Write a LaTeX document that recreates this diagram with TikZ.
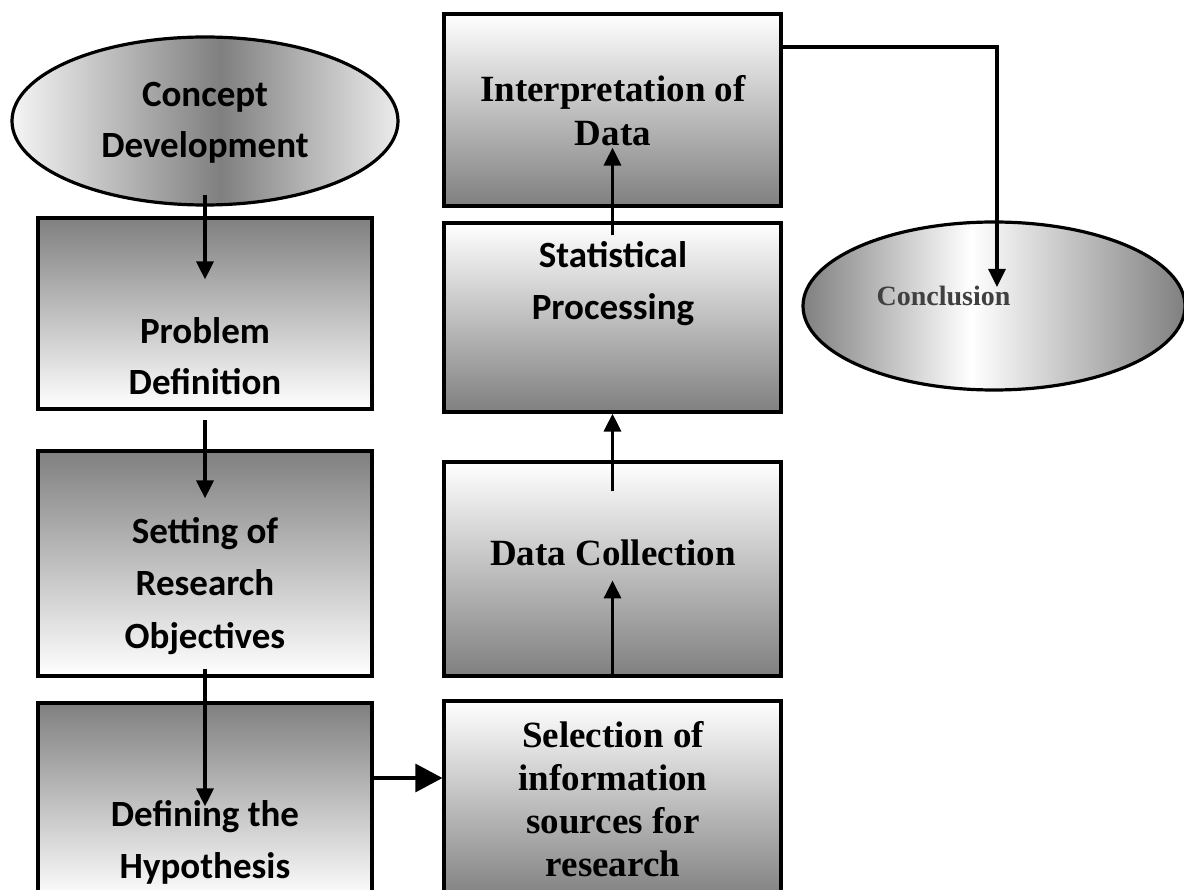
\documentclass[tikz,border=0pt]{standalone}
\usepackage{fontspec}
\setmainfont{Carlito}
\newfontfamily\timesf{Liberation Serif}
\usetikzlibrary{arrows.meta,shapes.geometric}
\pgfdeclarehorizontalshading{conceptshade}{100bp}{color(0bp)=(gray!8); color(25bp)=(gray!8); color(52bp)=(gray); color(75bp)=(gray!15); color(100bp)=(gray!15)}
\pgfdeclarehorizontalshading{conclshade}{100bp}{color(0bp)=(gray); color(25bp)=(gray); color(47bp)=(white); color(75bp)=(gray); color(100bp)=(gray)}
\begin{document}
\begin{tikzpicture}[x=1pt,y=-1pt,
  box/.style={draw=black,line width=3.2pt,rectangle,inner sep=0pt},
  darktop/.style={box,top color=gray,bottom color=white},
  lighttop/.style={box,top color=white,bottom color=gray},
  ell/.style={draw=black,line width=3.2pt,ellipse,inner sep=0pt},
  cal/.style={font=\fontsize{37}{52}\selectfont\bfseries,anchor=base,inner sep=0pt},
  tms/.style={font=\timesf\fontsize{37}{44}\selectfont\bfseries,anchor=base,inner sep=0pt},
  arr/.style={line width=3.2pt,-{Triangle[length=18pt,width=17pt]}},
  bigarr/.style={line width=3.2pt,-{Triangle[length=27pt,width=28pt]}}]
\useasboundingbox (0,0) rectangle (1184,890);
\clip (0,0) rectangle (1184,890);
% shapes
\node[ell,minimum width=386pt,minimum height=168pt,shading=conceptshade,shading angle=0] (concept) at (205,121) {};
\node[darktop,minimum width=334pt,minimum height=191pt] (problem) at (205,313.5) {};
\node[darktop,minimum width=334pt,minimum height=225pt] (setting) at (205,563.5) {};
\node[darktop,minimum width=334pt,minimum height=197pt] (defining) at (205,801.5) {};
\node[lighttop,minimum width=337pt,minimum height=192pt] (interp) at (612.5,110) {};
\node[lighttop,minimum width=337pt,minimum height=189pt] (stat) at (612.5,317.5) {};
\node[lighttop,minimum width=337pt,minimum height=214pt] (data) at (612.5,569) {};
\node[lighttop,minimum width=337pt,minimum height=199pt] (selection) at (612.5,800.5) {};
\node[ell,minimum width=382pt,minimum height=168pt,shading=conclshade,shading angle=0] (conclusion) at (994,306) {};
% texts
\node[cal] (t1a) at (205,107) {Concept};
\node[cal] (t1b) at (205,158) {Development};
\node[cal] (t2a) at (205,344) {Problem};
\node[cal] (t2b) at (205,395) {Definition};
\node[cal] (t3a) at (205,543) {Setting of};
\node[cal] (t3b) at (205,595) {Research};
\node[cal] (t3c) at (205,648) {Objectives};
\node[cal] (t4a) at (205,826) {Defining the};
\node[cal] (t4b) at (205,878) {Hypothesis};
\node[tms] (t5a) at (613,102) {Interpretation of};
\node[tms] (t5b) at (613,146) {Data};
\node[cal] (t6a) at (613,268) {Statistical};
\node[cal] (t6b) at (613,320) {Processing};
\node[tms] (t7) at (613,565) {Data Collection};
\node[tms] (t8a) at (613,747) {Selection of};
\node[tms] (t8b) at (613,790) {information};
\node[tms] (t8c) at (613,833) {sources for};
\node[tms] (t8d) at (613,876) {research};
\node[font=\timesf\fontsize{28}{30}\selectfont\bfseries,text=black!75,anchor=base,inner sep=0pt] (t9) at (943.5,306) {Conclusion};
% connectors
\draw[arr] ([yshift=12pt]concept.south) -- ([yshift=-63pt]problem.north);
\draw[arr] ([yshift=-9pt]problem.south) -- ([yshift=-49pt]setting.north);
\draw[arr] ([yshift=9pt]setting.south) -- ([yshift=-105pt]defining.north);
\draw[bigarr] ([yshift=23.5pt]defining.east) -- ([yshift=22.5pt]selection.west);
\draw[arr] (data.south) -- ([yshift=-120pt]data.north);
\draw[arr] ([yshift=-31pt]data.north) -- (stat.south);
\draw[arr] ([yshift=-14pt]stat.north) -- ([yshift=60pt]interp.south);
\draw[arr] ([yshift=63pt]interp.east) -| ([xshift=3pt,yshift=19pt]conclusion.center);
\end{tikzpicture}
\end{document}
